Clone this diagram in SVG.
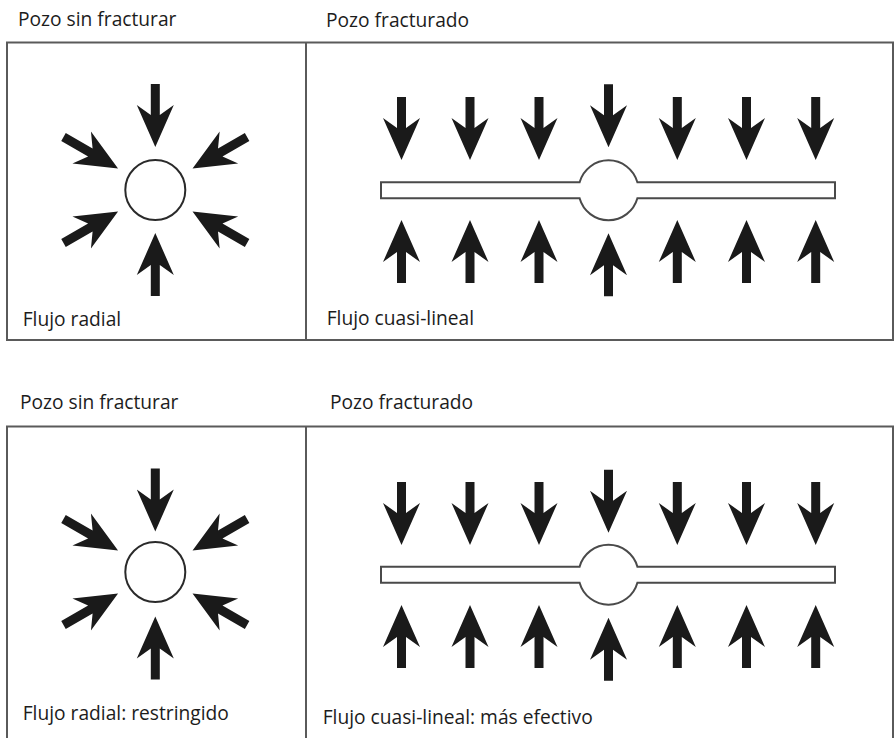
<svg xmlns="http://www.w3.org/2000/svg" width="894" height="738" viewBox="0 0 894 738">
  <style>
    .lbl { font-family: "Open Sans", "Noto Sans", "Liberation Sans", sans-serif; font-size: 19.2px; fill: #1c1c1c; }
    .box { fill: none; stroke: #5a5a5a; stroke-width: 2; }
    .well { fill: #ffffff; stroke: #2a2a2a; stroke-width: 2; }
    .frac { fill: #ffffff; stroke: #4a4a4a; stroke-width: 2; }
    .arr { fill: #1a1a1a; }
  </style>
  <defs>
    <!-- arrow pointing down (+y), tip at origin -->
    <path id="arr" class="arr" d="M0 0 L-18.5 -42 L-4.5 -32 L-4.5 -63 L4.5 -63 L4.5 -32 L18.5 -42 Z"/>
  </defs>
  <rect width="894" height="738" fill="#ffffff"/>

  <!-- ===== Top row ===== -->
  <g id="frame-top">
    <rect class="box" x="7" y="42.5" width="886" height="297.5"/>
    <line class="box" x1="306" y1="42.5" x2="306" y2="340"/>
  </g>
  <text class="lbl" x="18" y="26">Pozo sin fracturar</text>
  <text class="lbl" x="326" y="26.5">Pozo fracturado</text>

  <g id="radial-top">
    <circle class="well" cx="155.3" cy="190" r="30"/>
    <use href="#arr" transform="translate(155.3,190) rotate(0) translate(0,-43)"/>
    <use href="#arr" transform="translate(155.3,190) rotate(60) translate(0,-43)"/>
    <use href="#arr" transform="translate(155.3,190) rotate(120) translate(0,-43)"/>
    <use href="#arr" transform="translate(155.3,190) rotate(180) translate(0,-43)"/>
    <use href="#arr" transform="translate(155.3,190) rotate(240) translate(0,-43)"/>
    <use href="#arr" transform="translate(155.3,190) rotate(300) translate(0,-43)"/>
    <text class="lbl" x="22.7" y="326">Flujo radial</text>
  </g>

  <g id="fractured-top">
    <path class="frac" d="M381 182.3 L579.6 182.3 A30 30 0 0 1 637.4 182.3 L835 182.3 L835 198.3 L637.4 198.3 A30 30 0 0 1 579.6 198.3 L381 198.3 Z"/>
    <use href="#arr" transform="translate(401.5,160)"/>
    <use href="#arr" transform="translate(470,160)"/>
    <use href="#arr" transform="translate(539,160)"/>
    <use href="#arr" transform="translate(608.5,147.3)"/>
    <use href="#arr" transform="translate(677.3,160)"/>
    <use href="#arr" transform="translate(746.5,160)"/>
    <use href="#arr" transform="translate(815.7,160)"/>
    <use href="#arr" transform="translate(401.5,220) rotate(180)"/>
    <use href="#arr" transform="translate(470,220) rotate(180)"/>
    <use href="#arr" transform="translate(539,220) rotate(180)"/>
    <use href="#arr" transform="translate(608.5,233.3) rotate(180)"/>
    <use href="#arr" transform="translate(677.3,220) rotate(180)"/>
    <use href="#arr" transform="translate(746.5,220) rotate(180)"/>
    <use href="#arr" transform="translate(815.7,220) rotate(180)"/>
    <text class="lbl" x="326.7" y="325">Flujo cuasi-lineal</text>
  </g>

  <!-- ===== Bottom row ===== -->
  <g id="frame-bottom">
    <rect class="box" x="7" y="426.5" width="886" height="320"/>
    <line class="box" x1="306" y1="426.5" x2="306" y2="746"/>
  </g>
  <text class="lbl" x="20" y="409.3">Pozo sin fracturar</text>
  <text class="lbl" x="330" y="408.5">Pozo fracturado</text>

  <g id="radial-bottom">
    <circle class="well" cx="155.3" cy="572" r="30"/>
    <use href="#arr" transform="translate(155.3,573.5) rotate(0) translate(0,-42)"/>
    <use href="#arr" transform="translate(155.3,572) rotate(60) translate(0,-43)"/>
    <use href="#arr" transform="translate(155.3,572) rotate(120) translate(0,-43)"/>
    <use href="#arr" transform="translate(155.3,573.5) rotate(180) translate(0,-43)"/>
    <use href="#arr" transform="translate(155.3,572) rotate(240) translate(0,-43)"/>
    <use href="#arr" transform="translate(155.3,572) rotate(300) translate(0,-43)"/>
    <text class="lbl" x="22.7" y="720">Flujo radial: restringido</text>
  </g>

  <g id="fractured-bottom">
    <path class="frac" d="M381 566.7 L579.6 566.7 A30 30 0 0 1 637.4 566.7 L835 566.7 L835 582.7 L637.4 582.7 A30 30 0 0 1 579.6 582.7 L381 582.7 Z"/>
    <use href="#arr" transform="translate(401.5,545)"/>
    <use href="#arr" transform="translate(470,545)"/>
    <use href="#arr" transform="translate(539,545)"/>
    <use href="#arr" transform="translate(608.5,532.7)"/>
    <use href="#arr" transform="translate(677.3,545)"/>
    <use href="#arr" transform="translate(746.5,545)"/>
    <use href="#arr" transform="translate(815.7,545)"/>
    <use href="#arr" transform="translate(401.5,605) rotate(180)"/>
    <use href="#arr" transform="translate(470,605) rotate(180)"/>
    <use href="#arr" transform="translate(539,605) rotate(180)"/>
    <use href="#arr" transform="translate(608.5,617.7) rotate(180)"/>
    <use href="#arr" transform="translate(677.3,605) rotate(180)"/>
    <use href="#arr" transform="translate(746.5,605) rotate(180)"/>
    <use href="#arr" transform="translate(815.7,605) rotate(180)"/>
    <text class="lbl" x="322.7" y="724">Flujo cuasi-lineal: más efectivo</text>
  </g>
</svg>
